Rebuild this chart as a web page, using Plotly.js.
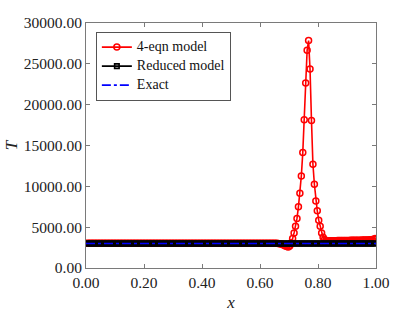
<!DOCTYPE html>
<html>
<head>
<meta charset="utf-8">
<script src="https://cdn.plot.ly/plotly-3.0.1.min.js"></script>
<style>html,body{margin:0;padding:0;background:#fff;}#chart{width:415px;height:312px;}</style>
</head>
<body>
<div id="chart"></div>
<script>
// cell-centre positions (200 cells on [0,1])
const xCells = [
0.0025,0.0075,0.0125,0.0175,0.0225,0.0275,0.0325,0.0375,0.0425,0.0475,
0.0525,0.0575,0.0625,0.0675,0.0725,0.0775,0.0825,0.0875,0.0925,0.0975,
0.1025,0.1075,0.1125,0.1175,0.1225,0.1275,0.1325,0.1375,0.1425,0.1475,
0.1525,0.1575,0.1625,0.1675,0.1725,0.1775,0.1825,0.1875,0.1925,0.1975,
0.2025,0.2075,0.2125,0.2175,0.2225,0.2275,0.2325,0.2375,0.2425,0.2475,
0.2525,0.2575,0.2625,0.2675,0.2725,0.2775,0.2825,0.2875,0.2925,0.2975,
0.3025,0.3075,0.3125,0.3175,0.3225,0.3275,0.3325,0.3375,0.3425,0.3475,
0.3525,0.3575,0.3625,0.3675,0.3725,0.3775,0.3825,0.3875,0.3925,0.3975,
0.4025,0.4075,0.4125,0.4175,0.4225,0.4275,0.4325,0.4375,0.4425,0.4475,
0.4525,0.4575,0.4625,0.4675,0.4725,0.4775,0.4825,0.4875,0.4925,0.4975,
0.5025,0.5075,0.5125,0.5175,0.5225,0.5275,0.5325,0.5375,0.5425,0.5475,
0.5525,0.5575,0.5625,0.5675,0.5725,0.5775,0.5825,0.5875,0.5925,0.5975,
0.6025,0.6075,0.6125,0.6175,0.6225,0.6275,0.6325,0.6375,0.6425,0.6475,
0.6525,0.6575,0.6625,0.6675,0.6725,0.6775,0.6825,0.6875,0.6925,0.6975,
0.7025,0.7075,0.7125,0.7175,0.7225,0.7275,0.7325,0.7375,0.7425,0.7475,
0.7525,0.7575,0.7625,0.7675,0.7725,0.7775,0.7825,0.7875,0.7925,0.7975,
0.8025,0.8075,0.8125,0.8175,0.8225,0.8275,0.8325,0.8375,0.8425,0.8475,
0.8525,0.8575,0.8625,0.8675,0.8725,0.8775,0.8825,0.8875,0.8925,0.8975,
0.9025,0.9075,0.9125,0.9175,0.9225,0.9275,0.9325,0.9375,0.9425,0.9475,
0.9525,0.9575,0.9625,0.9675,0.9725,0.9775,0.9825,0.9875,0.9925,0.9975
];

const tFourEqn = [
3030,3030,3030,3030,3030,3030,3030,3030,3030,3030,
3030,3030,3030,3030,3030,3030,3030,3030,3030,3030,
3030,3030,3030,3030,3030,3030,3030,3030,3030,3030,
3030,3030,3030,3030,3030,3030,3030,3030,3030,3030,
3030,3030,3030,3030,3030,3030,3030,3030,3030,3030,
3030,3030,3030,3030,3030,3030,3030,3030,3030,3030,
3030,3030,3030,3030,3030,3030,3030,3030,3030,3030,
3030,3030,3030,3030,3030,3030,3030,3030,3030,3030,
3030,3030,3030,3030,3030,3030,3030,3030,3030,3030,
3030,3030,3030,3030,3030,3030,3030,3030,3030,3030,
3030,3030,3030,3030,3030,3030,3030,3030,3030,3030,
3030,3030,3030,3030,3030,3030,3030,3030,3030,3030,
3030,3030,3030,3030,3030,3030,3030,3030,3030,3030,
3030,3020,3000,2970,2930,2870,2790,2700,2620,2580,
2700,3100,3600,4300,5120,6070,7490,9140,11270,14130,
18140,22650,26660,27850,24370,18060,12700,10250,8190,7000,
5860,5120,4300,3750,3480,3380,3350,3340,3340,3340,
3345,3350,3350,3355,3360,3360,3365,3370,3370,3375,
3380,3380,3385,3390,3390,3395,3400,3405,3410,3410,
3415,3420,3425,3430,3440,3450,3460,3480,3520,3600
];

const tReduced = [
3000,3000,3000,3000,3000,3000,3000,3000,3000,3000,
3000,3000,3000,3000,3000,3000,3000,3000,3000,3000,
3000,3000,3000,3000,3000,3000,3000,3000,3000,3000,
3000,3000,3000,3000,3000,3000,3000,3000,3000,3000,
3000,3000,3000,3000,3000,3000,3000,3000,3000,3000,
3000,3000,3000,3000,3000,3000,3000,3000,3000,3000,
3000,3000,3000,3000,3000,3000,3000,3000,3000,3000,
3000,3000,3000,3000,3000,3000,3000,3000,3000,3000,
3000,3000,3000,3000,3000,3000,3000,3000,3000,3000,
3000,3000,3000,3000,3000,3000,3000,3000,3000,3000,
3000,3000,3000,3000,3000,3000,3000,3000,3000,3000,
3000,3000,3000,3000,3000,3000,3000,3000,3000,3000,
3000,3000,3000,3000,3000,3000,3000,3000,3000,3000,
3000,3000,3000,3000,3000,3000,3000,3000,3000,3000,
3000,3000,3000,3000,3000,3000,3000,3000,3000,3000,
3000,3000,3000,3000,3000,3000,3000,3000,3000,3000,
3000,3000,3000,3000,3000,3000,3000,3000,3000,3000,
3000,3000,3000,3000,3000,3000,3000,3000,3000,3000,
3000,3000,3000,3000,3000,3000,3000,3000,3000,3000,
3000,3000,3000,3000,3000,3000,3000,3000,3000,3000
];

const xExact = [0, 1];
const tExact = [3000, 3000];

const seriesNames = ['4-eqn model', 'Reduced model', 'Exact'];
const xTicks = [0, 0.2, 0.4, 0.6, 0.8, 1.0];
const yTicks = [0, 5000, 10000, 15000, 20000, 25000, 30000];

const serif = '"Liberation Serif", serif';
const frame = '#7a7a7a';
const legendName = (s) => '<span style="font-size:14px">' + s + '</span>';

const traces = [
  {
    x: xCells, y: tFourEqn, name: legendName(seriesNames[0]), type: 'scatter', mode: 'lines+markers',
    line: {color: '#ff0000', width: 1.6},
    marker: {symbol: 'circle-open', size: 6, color: '#ff0000', line: {width: 1.5, color: '#ff0000'}}
  },
  {
    x: xCells, y: tReduced, name: legendName(seriesNames[1]), type: 'scatter', mode: 'lines+markers',
    line: {color: '#000000', width: 1.6},
    marker: {symbol: 'square-open', size: 4.5, color: '#000000', line: {width: 1.6, color: '#000000'}}
  },
  {
    x: xExact, y: tExact, name: legendName(seriesNames[2]), type: 'scatter', mode: 'lines',
    line: {color: '#0000ff', width: 1.6, dash: 'dashdot'}
  }
];

const layout = {
  width: 415, height: 312,
  margin: {l: 86, r: 39, t: 23, b: 44, pad: 0},
  paper_bgcolor: '#ffffff', plot_bgcolor: '#ffffff',
  font: {family: serif, size: 15, color: '#222222'},
  showlegend: true,
  legend: {
    x: 0.034, y: 0.965, xanchor: 'left', yanchor: 'top',
    bgcolor: '#ffffff', bordercolor: '#555555', borderwidth: 1,
    font: {family: serif, size: 11, color: '#111111'},
    tracegroupgap: 0, itemwidth: 30
  },
  xaxis: {
    range: [0, 1], tickvals: xTicks, tickformat: '.2f',
    ticks: 'inside', ticklen: 4, tickcolor: frame, tickwidth: 1,
    showline: true, linecolor: frame, linewidth: 1, mirror: 'ticks',
    showgrid: false, zeroline: false,
    tickfont: {family: serif, size: 15.5, color: '#222222'},
    title: {text: '<i>x</i>', font: {family: serif, size: 17, color: '#222222'}, standoff: 6}
  },
  yaxis: {
    range: [0, 30000], tickvals: yTicks, tickformat: '.2f',
    ticks: 'inside', ticklen: 4, tickcolor: frame, tickwidth: 1,
    showline: true, linecolor: frame, linewidth: 1, mirror: 'ticks',
    showgrid: false, zeroline: false,
    tickfont: {family: serif, size: 15.5, color: '#222222'},
    title: {text: '<i>T</i>', font: {family: serif, size: 17, color: '#222222'}, standoff: 1}
  }
};

Plotly.newPlot('chart', traces, layout, {displayModeBar: false, staticPlot: true});
</script>
</body>
</html>
